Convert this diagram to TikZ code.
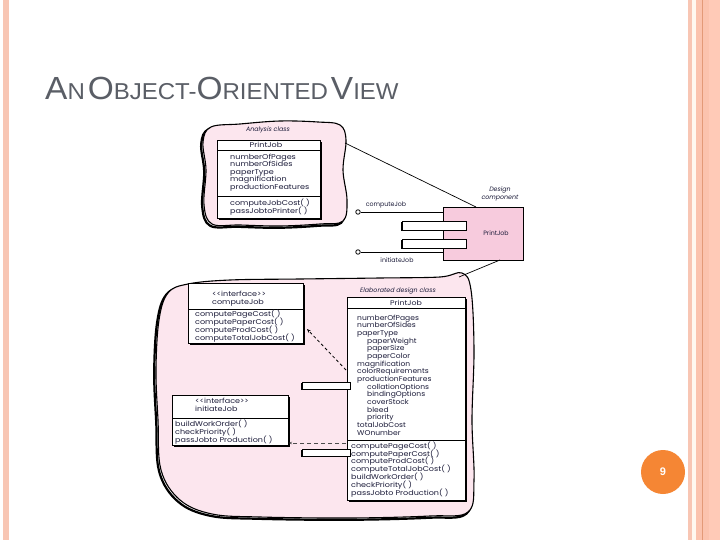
\documentclass[tikz,border=0pt]{standalone}
\usepackage{fontspec}
\setmainfont{Liberation Sans}
\newfontfamily\dfont{Poppins}
\newfontfamily\dfontw{Poppins}[FakeStretch=1.15]
\newfontfamily\dfontm{Poppins}[FakeStretch=1.08]
\usetikzlibrary{arrows.meta,shadows}
\definecolor{stripeA}{HTML}{F8C6B4}
\definecolor{stripeB}{HTML}{FBC3AE}
\definecolor{stripeC}{HTML}{E39A78}
\definecolor{stripeD}{HTML}{FFCAB7}
\definecolor{cream}{HTML}{FFF8F0}
\definecolor{titlec}{HTML}{5A5E66}
\definecolor{cloudfill}{HTML}{FCE6EE}
\definecolor{compfill}{HTML}{F7CBDD}
\definecolor{txtc}{HTML}{1C1C3A}
\definecolor{pgorange}{HTML}{F58634}
\newcommand{\bigc}[1]{{\fontsize{32}{32}\selectfont #1}}
\newcommand{\smc}[1]{{\fontsize{23}{23}\selectfont #1}}
\newcommand{\tightlines}{\lineskiplimit=-100pt\lineskip=0pt}
\begin{document}
\begin{tikzpicture}[x=1pt,y=-1pt,
  clsbox/.style={draw=black, line width=0.8pt, fill=white, inner sep=0,
    drop shadow={shadow xshift=1.4pt, shadow yshift=-1.4pt, opacity=1, fill=black}},
  portbox/.style={draw=black, line width=0.8pt, fill=white, inner sep=0,
    drop shadow={shadow xshift=-1pt, shadow yshift=-1pt, opacity=1, fill=black}},
  compbox/.style={draw=black, line width=0.6pt, fill=compfill, inner sep=0},
  lolli/.style={circle, draw=black, line width=0.8pt, fill=white, inner sep=0, minimum size=4.5pt},
  txt/.style={font=\dfontw\fontsize{7}{8}\selectfont\tightlines, text=txtc, inner sep=0, align=left, anchor=north west},
  atxt/.style={font=\dfontm\fontsize{7}{7.67}\selectfont\tightlines, text=txtc, inner sep=0, align=left, anchor=north west},
  txtc/.style={font=\dfont\fontsize{6.3}{7.7}\selectfont, text=txtc, inner sep=0},
  bigtxt/.style={font=\dfontw\fontsize{7}{7.6}\selectfont\tightlines, text=txtc, inner sep=0, align=left, anchor=north west},
  itl/.style={font=\dfont\itshape\fontsize{6.3}{7.4}\selectfont, text=txtc, inner sep=0},
  cloudline/.style={draw=black, line width=1.1pt, fill=cloudfill},
  cloudshadow/.style={draw=black, line width=2.2pt},
  conn/.style={draw=black, line width=0.7pt},
  dashconn/.style={draw=black, line width=0.8pt, dashed, dash pattern=on 3pt off 2.5pt}
]
\useasboundingbox (0,0) rectangle (720,540);
\fill[white] (0,0) rectangle (720,540);
% side stripes
\fill[stripeA] (3,0) rectangle (8.5,540);
\fill[stripeA] (688,0) rectangle (692,540);
\fill[cream] (692,0) rectangle (696,540);
\fill[stripeB] (696,0) rectangle (702,540);
\fill[stripeC] (702,0) rectangle (703.2,540);
\fill[stripeB] (703.2,0) rectangle (709,540);
\fill[stripeD] (709,0) rectangle (720,540);
% title
\node[anchor=base west, text=titlec, inner sep=0] (title) at (45,100)
  {\scalebox{1.045}[1]{\bigc{A}\smc{N} \bigc{O}\smc{BJECT-}\bigc{O}\smc{RIENTED} \bigc{V}\smc{IEW}}};

% ---------- analysis cloud ----------
\def\acloud{(211,127) (240,124) (280,121) (318,122) (340,125) (346,140) (343,170) (347,200) (343,221) (320,224) (280,226) (240,225) (212,224) (204,205) (206,170) (203,142)}
\draw[cloudshadow, xshift=-1.8pt, yshift=-1.8pt] plot[smooth cycle, tension=0.6] coordinates {\acloud};
\draw[cloudline] plot[smooth cycle, tension=0.6] coordinates {\acloud};
\coordinate (acloudR) at (345,143);
\node[itl] (alab) at (268,130) {Analysis class};
\node[clsbox, minimum width=103pt, minimum height=78pt, anchor=north west] (ajob) at (217,140) {};
\draw[line width=0.6pt] (217,150) -- (320,150);
\draw[line width=0.6pt] (217,196) -- (320,196);
\node[txtc, font=\dfontw\fontsize{7}{8}\selectfont] (ahead) at (266,145) {PrintJob};
\node[bigtxt] (aattr) at (230,153.5) {numberOfPages\\numberOfSides\\paperType\\magnification\\productionFeatures};
\node[bigtxt, font=\dfontw\fontsize{7}{8.5}\selectfont\tightlines] (aops) at (230,198.5) {computeJobCost( )\\passJobtoPrinter( )};

% ---------- design component ----------
\node[itl, align=center] (clab) at (500,194) {Design\\component};
\node[compbox, minimum width=80pt, minimum height=53pt, anchor=north west] (comp) at (443,207) {};
\node[txtc] (cname) at (496,233) {PrintJob};
\node[portbox, minimum width=64pt, minimum height=9pt, anchor=north west] (cp1) at (402,221) {};
\node[portbox, minimum width=64pt, minimum height=9pt, anchor=north west] (cp2) at (402,238.5) {};
\node[lolli] (lp1) at (358,212) {};
\node[lolli] (lp2) at (358,252) {};
\draw[conn] (lp1) -- (lp1 -| comp.west);
\draw[conn] (lp2) -- (lp2 -| comp.west);
\node[txtc] (lpl1) at (386,204.5) {computeJob};
\node[txtc] (lpl2) at (397,260.5) {initiateJob};
\coordinate (compT) at (476,207);
\coordinate (compB) at (500,260);
\draw[conn] (acloudR) -- (compT);

% ---------- big cloud ----------
\def\bcloud{(168,293) (188,284) (230,280) (300,279) (380,278) (440,277) (462,273) (471,290) (474,350) (472,420) (474,480) (468,512) (430,516) (350,518) (260,517) (212,514) (180,500) (161,470) (158,420) (156,370) (159,320)}
\draw[cloudshadow, xshift=-1.8pt, yshift=-1.8pt] plot[smooth cycle, tension=0.6] coordinates {\bcloud};
\draw[cloudline] plot[smooth cycle, tension=0.6] coordinates {\bcloud};
\coordinate (bcloudTR) at (459,277);
\draw[conn] (compB) -- (bcloudTR);

% interface computeJob
\node[clsbox, minimum width=115pt, minimum height=60pt, anchor=north west] (ifa) at (188,283) {};
\draw[line width=0.6pt] (188,309) -- (303,309);
\node[txt] (ifah) at (212,290.5) {<<interface>>\\computeJob};
\node[txt] (ifao) at (195,310) {computePageCost( )\\computePaperCost( )\\computeProdCost( )\\computeTotalJobCost( )};

% interface initiateJob
\node[clsbox, minimum width=116pt, minimum height=50pt, anchor=north west] (ifb) at (172,395) {};
\draw[line width=0.6pt] (172,418) -- (288,418);
\node[txt] (ifbh) at (195,398) {<<interface>>\\initiateJob};
\node[txt] (ifbo) at (175,420) {buildWorkOrder( )\\checkPriority( )\\passJobto Production( )};

% elaborated class
\node[itl] (elab) at (398,291) {Elaborated design class};
\node[clsbox, minimum width=118pt, minimum height=203pt, anchor=north west] (ejob) at (347,297) {};
\draw[line width=0.6pt] (347,308) -- (465,308);
\draw[line width=0.6pt] (347,440) -- (465,440);
\node[txtc, font=\dfontw\fontsize{6.8}{8}\selectfont] (ehead) at (406,302.5) {PrintJob};
\node[atxt] (eattr) at (357,314.5) {numberOfPages\\numberOfSides\\paperType\\\hspace*{10pt}paperWeight\\\hspace*{10pt}paperSize\\\hspace*{10pt}paperColor\\magnification\\colorRequirements\\productionFeatures\\\hspace*{10pt}collationOptions\\\hspace*{10pt}bindingOptions\\\hspace*{10pt}coverStock\\\hspace*{10pt}bleed\\\hspace*{10pt}priority\\totalJobCost\\WOnumber};
\node[txt, font=\dfontw\fontsize{7}{7.83}\selectfont\tightlines] (eops) at (351,441.5) {computePageCost( )\\computePaperCost( )\\computeProdCost( )\\computeTotalJobCost( )\\buildWorkOrder( )\\checkPriority( )\\passJobto Production( )};
\node[portbox, minimum width=48pt, minimum height=7pt, anchor=north west] (ep1) at (302,382) {};
\node[portbox, minimum width=48pt, minimum height=7pt, anchor=north west] (ep2) at (302,449) {};

% dependency connectors
\coordinate (eL1) at (346,370);
\coordinate (ifaC) at (307,329);
\coordinate (eL2) at (346,443);
\coordinate (ifbR) at (289,443);
\draw[dashconn, -{Stealth[length=4pt,width=3pt]}] (eL1) -- (ifaC);
\draw[draw=black!70, line width=0.5pt, dash pattern=on 4pt off 3pt, -{Stealth[length=3pt,width=2.5pt]}] (eL2) -- (ifbR);

% page number
\node[circle, fill=pgorange, minimum size=44pt, inner sep=0, text=white, font=\bfseries\fontsize{11}{11}\selectfont] (pg) at (663,472) {9};
\end{tikzpicture}
\end{document}
